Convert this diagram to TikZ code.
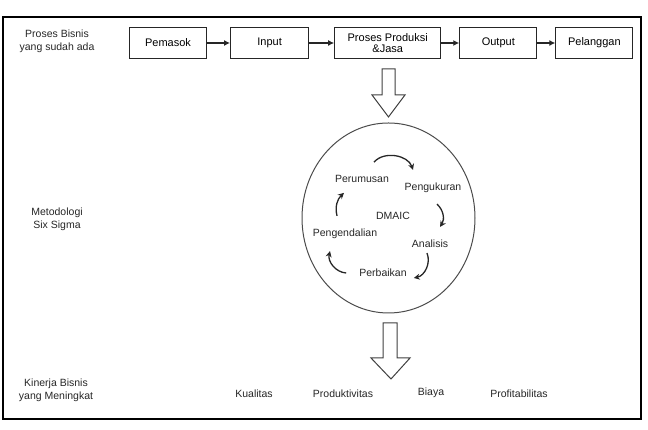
\documentclass[tikz,border=0pt]{standalone}
\usepackage{fontspec}
\setmainfont{Liberation Sans}
\usetikzlibrary{positioning,arrows.meta,shapes.geometric}

\begin{document}
\begin{tikzpicture}[
  x=1pt, y=1pt,
  node distance=21pt,
  box/.style={draw=black!85, line width=1.1pt, align=center, minimum height=31pt, inner sep=2pt, font=\fontsize{11}{11.5}\selectfont},
  note/.style={align=center, font=\fontsize{10.5}{13}\selectfont, text=black!85},
  lbl/.style={font=\fontsize{10.5}{11}\selectfont, text=black!85, inner sep=1pt},
  ar/.style={-{Latex[length=6pt,width=6pt]}, line width=1.2pt, black!85},
  cy/.style={-{Stealth[length=6pt,width=6pt]}, line width=1.3pt, black!85},
  hollow/.style={draw=black!75, line width=1pt, fill=white}
]
\useasboundingbox (0,0) rectangle (648,430);
\draw[line width=1.6pt] (3,11) rectangle (641,413);

% baris proses bisnis
\node[box, minimum width=77pt] (p1) at (168,387) {Pemasok};
\node[box, minimum width=78pt, right=23pt of p1] (p2) {Input};
\node[box, minimum width=106pt, right=25pt of p2] (p3) {Proses Produksi\\\&Jasa};
\node[box, minimum width=77pt, right=18pt of p3] (p4) {Output};
\node[box, minimum width=77pt, right=18pt of p4] (p5) {Pelanggan};
\draw[ar] (p1) -- (p2);
\draw[ar] (p2) -- (p3);
\draw[ar] (p3) -- (p4);
\draw[ar] (p4) -- (p5);

% keterangan kiri
\node[note] (n1) at (57,389) {Proses Bisnis\\yang sudah ada};
\node[note] (n2) at (57,211) {Metodologi\\Six Sigma};
\node[note] (n3) at (56,40) {Kinerja Bisnis\\yang Meningkat};

% siklus DMAIC
\node[draw=black!70, line width=1pt, ellipse, minimum width=173pt, minimum height=190pt] (cyc) at (388.5,212) {};
\node[lbl] (d0) at (393,214) {DMAIC};
\node[lbl] (d1) at (362,251) {Perumusan};
\node[lbl] (d2) at (433,242) {Pengukuran};
\node[lbl] (d3) at (430,186) {Analisis};
\node[lbl] (d4) at (383,157) {Perbaikan};
\node[lbl] (d5) at (345,196) {Pengendalian};
\draw[cy] ([shift={(12,12)}]d1.north) to[bend left=60] ([shift={(-20,12)}]d2.north);
\draw[cy] ([shift={(4,-10)}]d2.south) to[bend left=40] ([shift={(10,12)}]d3.north);
\draw[cy] ([shift={(-3,-4)}]d3.south) to[bend left=50] ([shift={(6,-5)}]d4.east);
\draw[cy] ([shift={(-12,0)}]d4.west) to[bend left=50] ([shift={(-15,-11)}]d5.south);
\draw[cy] ([shift={(-8,12)}]d5.north) to[bend left=30] ([shift={(-18,-9)}]d1.south);

% panah besar
\draw[hollow] (382,361) -- (395,361) -- (395,335) -- (405,335) -- (388.5,313) -- (372,335) -- (382,335) -- cycle;
\draw[hollow] (383,107) -- (397,107) -- (397,72) -- (410,72) -- (391,51) -- (371,72) -- (383,72) -- cycle;

% kinerja
\node[lbl] (k1) at (254,36) {Kualitas};
\node[lbl] (k2) at (343,36) {Produktivitas};
\node[lbl] (k3) at (431,37) {Biaya};
\node[lbl] (k4) at (519,36) {Profitabilitas};
\end{tikzpicture}
\end{document}
